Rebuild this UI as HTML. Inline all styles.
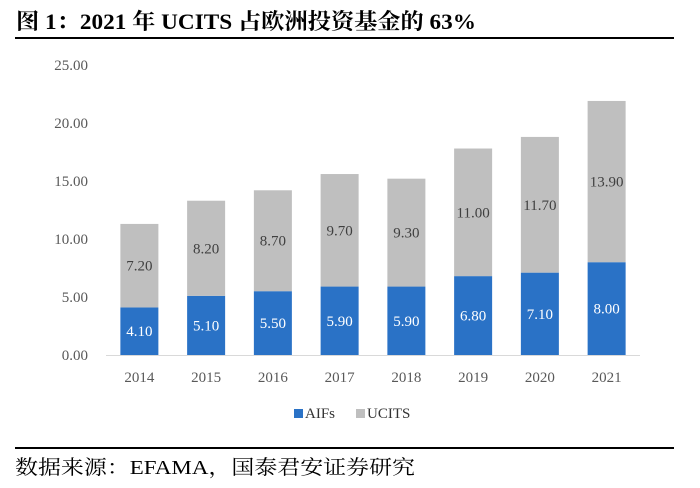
<!DOCTYPE html>
<html><head><meta charset="utf-8"><style>
body{margin:0;background:#fff;width:700px;height:488px;overflow:hidden}
svg{display:block}
</style></head><body>
<svg id="c" width="700" height="488" xmlns="http://www.w3.org/2000/svg" font-family="'Liberation Serif','Noto Serif CJK SC',serif">
<text x="16" y="29" font-size="22" font-weight="bold" fill="#000" textLength="460" lengthAdjust="spacingAndGlyphs">图 1：2021 年 UCITS 占欧洲投资基金的 63%</text>
<rect x="15" y="37" width="659" height="2" fill="#000"/>
<g id="yaxis"></g>
<g id="bars"></g>
<g id="xaxis"></g>
<g>
<rect x="294" y="409" width="9" height="9" fill="#2a72c6"/>
<text x="305" y="418" font-size="15" fill="#333">AIFs</text>
<rect x="356" y="409" width="9" height="9" fill="#bfbfbf"/>
<text x="367" y="418" font-size="15" fill="#333">UCITS</text>
</g>
<rect x="15" y="447" width="659" height="2" fill="#000"/>
<text x="15" y="474" font-size="20" fill="#000" textLength="400" lengthAdjust="spacingAndGlyphs">数据来源：EFAMA，国泰君安证券研究</text>
</svg>
<script>
const categories=["2014","2015","2016","2017","2018","2019","2020","2021"];
const aifs=[4.10,5.10,5.50,5.90,5.90,6.80,7.10,8.00];
const ucits=[7.20,8.20,8.70,9.70,9.30,11.00,11.70,13.90];
const yTicks=[0,5,10,15,20,25];
const NS="http://www.w3.org/2000/svg";
const y0=355,pxPerUnit=11.6,x0=106,step=66.75,bw=38;
const y=v=>y0-v*pxPerUnit;
const xc=i=>x0+step*(i+0.5);
function mk(tag,attrs,parent){const e=document.createElementNS(NS,tag);for(const k in attrs)e.setAttribute(k,attrs[k]);parent.appendChild(e);return e;}
const ya=document.getElementById('yaxis'),bg=document.getElementById('bars'),xa=document.getElementById('xaxis');
yTicks.forEach(t=>{const e=mk('text',{x:88,y:y(t)+5,'font-size':15,fill:'#595959','text-anchor':'end'},ya);e.textContent=t.toFixed(2);

});
const base=mk('line',{x1:x0,x2:x0+step*categories.length,y1:y0+0.5,y2:y0+0.5,stroke:'#d9d9d9'},xa);


categories.forEach((c,i)=>{
const cx=xc(i);
const r1=mk('rect',{x:cx-bw/2,y:y(aifs[i]),width:bw,height:aifs[i]*pxPerUnit,fill:'#2a72c6'},bg);


const r2=mk('rect',{x:cx-bw/2,y:y(aifs[i]+ucits[i]),width:bw,height:ucits[i]*pxPerUnit,fill:'#bfbfbf'},bg);


const l1=mk('text',{x:cx,y:y(aifs[i]/2)+5,'font-size':15,fill:'#fff','text-anchor':'middle'},bg);l1.textContent=aifs[i].toFixed(2);


const l2=mk('text',{x:cx,y:y(aifs[i]+ucits[i]/2)+5,'font-size':15,fill:'#404040','text-anchor':'middle'},bg);l2.textContent=ucits[i].toFixed(2);


const xl=mk('text',{x:cx,y:382,'font-size':15,fill:'#595959','text-anchor':'middle'},xa);xl.textContent=c;


});
</script>
</body></html>
